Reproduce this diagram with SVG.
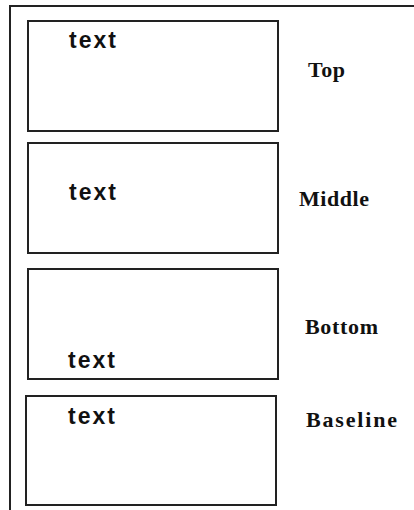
<svg xmlns="http://www.w3.org/2000/svg" width="414" height="510" viewBox="0 0 414 510">
<style>
.frame{stroke:#222;stroke-width:2;fill:none}
.box{stroke:#222;stroke-width:2;fill:#fff}
.t{font-family:"Liberation Sans",Arial,sans-serif;font-weight:bold;font-size:23px;fill:#111}
.lbl{font-family:"Liberation Serif","Times New Roman",serif;font-weight:bold;font-size:22px;fill:#111}
</style>
<rect width="414" height="510" fill="#fff"/>
<g id="frame">
<path class="frame" d="M10,510 V6 H414"/>
</g>
<g id="node-top">
<rect class="box" x="28" y="21" width="250" height="110"/>
<text class="t" x="69" y="48" textLength="47">text</text>
<text class="lbl" x="308" y="77" textLength="37">Top</text>
</g>
<g id="node-middle">
<rect class="box" x="28" y="143" width="250" height="110"/>
<text class="t" x="69" y="200" textLength="47">text</text>
<text class="lbl" x="299" y="206" textLength="70">Middle</text>
</g>
<g id="node-bottom">
<rect class="box" x="28" y="269" width="250" height="110"/>
<text class="t" x="68" y="368" textLength="47">text</text>
<text class="lbl" x="305" y="334" textLength="73">Bottom</text>
</g>
<g id="node-baseline">
<rect class="box" x="26" y="396" width="250" height="109"/>
<text class="t" x="68" y="424" textLength="47">text</text>
<text class="lbl" x="306" y="427" textLength="91">Baseline</text>
</g>
<g id="connectors"></g>
</svg>
